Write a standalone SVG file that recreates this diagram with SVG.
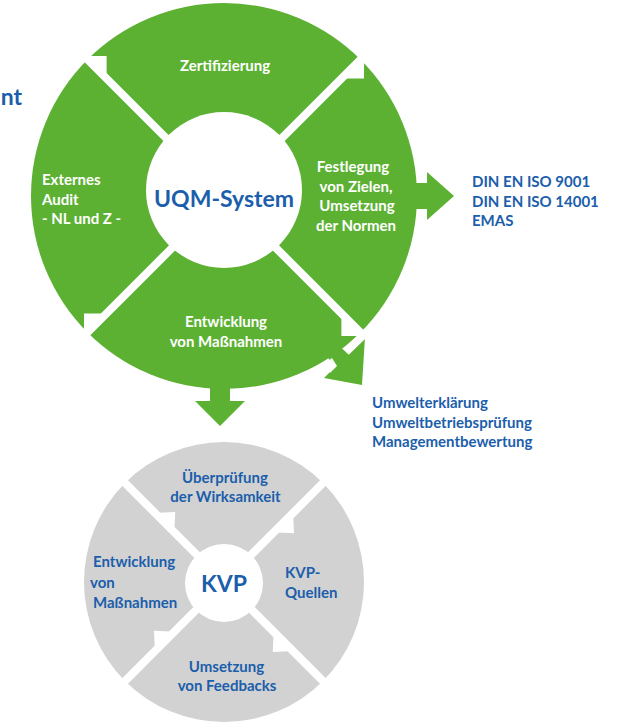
<svg xmlns="http://www.w3.org/2000/svg" width="624" height="722" viewBox="0 0 624 722">
  <style>
    text { font-family: Lato, "Open Sans", "Liberation Sans", sans-serif; font-weight: 700; }
    .green { fill: #5cb132; }
    .grey { fill: #d2d2d2; }
    .cut { fill: #ffffff; }
    .wt { fill: #ffffff; font-size: 15px; }
    .bt { fill: #1b5eab; font-size: 15px; }
    .mid { text-anchor: middle; }
  </style>
  <defs>
    <!-- separator between two ring segments, pointing along +x -->
    <g id="gapBig">
      <rect x="0" y="-4" width="198" height="8" class="cut"/>
      <polygon points="195,3 169,3 182,16" class="cut"/>
    </g>
    <g id="gapSmall">
      <rect x="0" y="-4" width="144" height="8" class="cut"/>
      <polygon points="95,3 73,3 84,15" class="cut"/>
    </g>
  </defs>

  <rect width="624" height="722" fill="#ffffff"/>

  <!-- cut-off heading -->
  <text x="22" y="105" class="bt" style="font-size:23px" text-anchor="end">nt</text>

  <!-- UQM cycle -->
  <g id="uqm-ring">
    <circle cx="224" cy="196" r="193" class="green"/>
    <!-- outgoing arrows -->
    <polygon points="405,183 427,183 427,172 454,196 427,220 427,209 405,209" class="green"/>
    <polygon points="210,380 230,380 230,401 245,401 220,426 195,401 210,401" class="green"/>
    <polygon points="315,345 327,334 349,355 337,367" class="green"/>
    <polygon points="324,378 365,337 362,385" class="green"/>
    <g transform="translate(224,196)">
      <use href="#gapBig" transform="rotate(225)"/>
      <use href="#gapBig" transform="rotate(315)"/>
      <use href="#gapBig" transform="rotate(45)"/>
      <use href="#gapBig" transform="rotate(135)"/>
    </g>
    <polygon points="348.8,354.8 366,338 361,332 343.8,348.8" class="cut"/>
    <polygon points="330,373 337,366 332,358 327,362" class="cut"/>
    <circle cx="224" cy="190" r="78" class="cut"/>
  </g>

  <g id="uqm-center">
    <text x="224" y="207" class="bt mid" style="font-size:23px">UQM-System</text>
  </g>
  <g id="uqm-zertifizierung">
    <text x="225" y="71" class="wt mid">Zertifizierung</text>
  </g>
  <g id="uqm-festlegung">
    <text x="353" y="172" class="wt mid">Festlegung</text>
    <text x="356" y="192" class="wt mid">von Zielen,</text>
    <text x="357" y="211" class="wt mid">Umsetzung</text>
    <text x="356" y="231" class="wt mid">der Normen</text>
  </g>
  <g id="uqm-entwicklung">
    <text x="226" y="327" class="wt mid">Entwicklung</text>
    <text x="226" y="347" class="wt mid">von Maßnahmen</text>
  </g>
  <g id="uqm-audit">
    <text x="42" y="185" class="wt">Externes</text>
    <text x="42" y="204.5" class="wt">Audit</text>
    <text x="42" y="224" class="wt">- NL und Z -</text>
  </g>

  <g id="standards">
    <text x="472" y="187" class="bt">DIN EN ISO 9001</text>
    <text x="472" y="206.5" class="bt">DIN EN ISO 14001</text>
    <text x="472" y="226" class="bt">EMAS</text>
  </g>
  <g id="reports">
    <text x="372" y="408" class="bt">Umwelterklärung</text>
    <text x="372" y="427.5" class="bt">Umweltbetriebsprüfung</text>
    <text x="372" y="447" class="bt">Managementbewertung</text>
  </g>

  <!-- KVP cycle -->
  <g id="kvp-ring">
    <circle cx="224" cy="582" r="140" class="grey"/>
    <g transform="translate(224,582)">
      <use href="#gapSmall" transform="rotate(225)"/>
      <use href="#gapSmall" transform="rotate(315)"/>
      <use href="#gapSmall" transform="rotate(45)"/>
      <use href="#gapSmall" transform="rotate(135)"/>
    </g>
    <circle cx="224" cy="583" r="39" class="cut"/>
  </g>
  <g id="kvp-center">
    <text x="224" y="592" class="bt mid" style="font-size:23px">KVP</text>
  </g>
  <g id="kvp-pruefung">
    <text x="225" y="483" class="bt mid">Überprüfung</text>
    <text x="225.5" y="502" class="bt mid">der Wirksamkeit</text>
  </g>
  <g id="kvp-quellen">
    <text x="285" y="578" class="bt">KVP-</text>
    <text x="285" y="598" class="bt">Quellen</text>
  </g>
  <g id="kvp-entwicklung">
    <text x="93" y="567" class="bt">Entwicklung</text>
    <text x="90" y="588" class="bt">von</text>
    <text x="93" y="608" class="bt">Maßnahmen</text>
  </g>
  <g id="kvp-umsetzung">
    <text x="226.5" y="672" class="bt mid">Umsetzung</text>
    <text x="227" y="691" class="bt mid">von Feedbacks</text>
  </g>
</svg>
